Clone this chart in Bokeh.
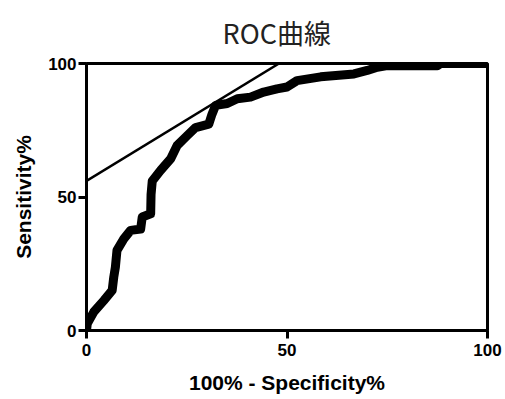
from bokeh.plotting import figure
from bokeh.models import Range1d, FixedTicker
from bokeh.embed import file_html
from bokeh.resources import INLINE

# ROC curve points (100% - Specificity%, Sensitivity%)
fpr = [0, 0.2, 1.8, 4.3, 6.4, 6.8, 7.2, 7.6, 9.3, 11, 13.5, 13.9, 16, 16.1, 16.4,
       18.5, 21, 22.6, 25.1, 27.2, 30.5, 31.3, 32.2, 35.1, 37.6, 40.9, 44.2, 47.5,
       50, 52.5, 58.4, 66.7, 70, 72.5, 75, 87.5, 88.3, 100]
tpr = [0, 2.6, 6.9, 11.2, 15, 20, 23.7, 30, 34.3, 37.5, 38, 42.5, 43.7, 51, 56,
       60, 64.3, 69.3, 73, 76, 77.3, 81, 84.3, 85, 86.8, 87.4, 89.3, 90.5,
       91.2, 93.6, 95, 96.1, 97.4, 98.6, 99.2, 99.2, 100, 100]

# tangent line
tan_x = [0, 48]
tan_y = [56, 100]

ticks = [0, 50, 100]
title_text = "ROC曲線"

p = figure(width=505, height=399, output_backend="svg", toolbar_location=None,
           x_range=Range1d(0, 100), y_range=Range1d(0, 100),
           min_border_left=86, min_border_right=18, min_border_top=63,
           min_border_bottom=69)

xax = p.below[0]
yax = p.left[0]

p.title.text = title_text
p.title.align = "left"
p.title.vertical_align = "top"
p.title.text_font = "Noto Sans CJK JP"
p.title.text_font_style = "normal"
p.title.text_font_size = "27px"
p.title.text_color = "#222222"
p.title.offset = 136
p.title.standoff = 20

p.grid.visible = False
p.background_fill_color = "white"
p.border_fill_color = "white"
p.outline_line_color = "black"
p.outline_line_width = 3

for ax in (xax, yax):
    ax.ticker = FixedTicker(ticks=ticks)
    ax.axis_line_width = 3
    ax.axis_line_color = "black"
    ax.major_tick_line_width = 3
    ax.major_tick_out = 8
    ax.major_tick_in = 0
    ax.minor_tick_line_color = None
    ax.major_label_text_font = "Liberation Sans"
    ax.major_label_text_font_style = "bold"
    ax.major_label_text_font_size = "17px"
    ax.major_label_text_color = "black"
    ax.axis_label_text_font = "Liberation Sans"
    ax.axis_label_text_font_style = "bold"
    ax.axis_label_text_font_size = "21px"
    ax.axis_label_text_color = "black"

xax.major_label_standoff = 5
yax.major_label_standoff = 2
xax.axis_label = "100% - Specificity%"
yax.axis_label = "Sensitivity%"
xax.axis_label_standoff = 12
yax.axis_label_standoff = 10

p.line(tan_x, tan_y, line_color="black", line_width=2.5)
p.line(fpr, tpr, line_color="black", line_width=9, line_join="round", line_cap="round")

open("out.html", "w").write(file_html(p, INLINE))
